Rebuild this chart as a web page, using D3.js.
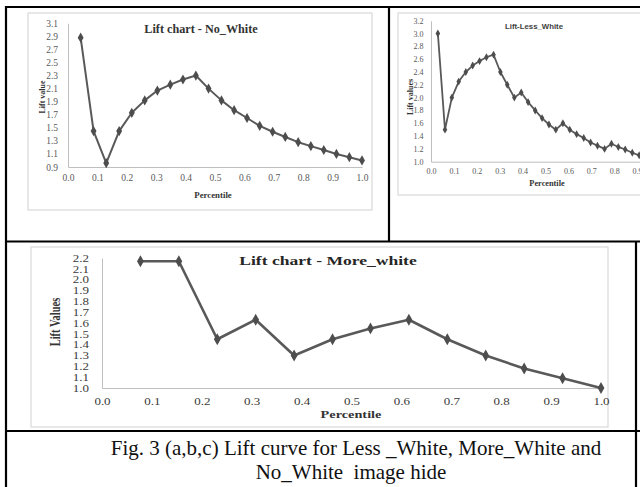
<!DOCTYPE html>
<html>
<head>
<meta charset="utf-8">
<script src="https://cdn.jsdelivr.net/npm/d3@7"></script>
<style>
  body { margin: 0; background: #fff; }
  svg { display: block; }
</style>
</head>
<body>
<script>
// (a) No_White
const noWhitePct = [0.043, 0.087, 0.130, 0.174, 0.217, 0.261, 0.304, 0.348, 0.391, 0.435, 0.478, 0.522,
  0.565, 0.609, 0.652, 0.696, 0.739, 0.783, 0.826, 0.870, 0.913, 0.957, 1.000];
const noWhiteLift = [2.88, 1.45, 0.96, 1.45, 1.73, 1.92, 2.07, 2.16, 2.24, 2.30, 2.10, 1.92,
  1.77, 1.65, 1.53, 1.44, 1.36, 1.28, 1.22, 1.16, 1.10, 1.05, 1.00];
const noWhiteYTicks = [0.9, 1.1, 1.3, 1.5, 1.7, 1.9, 2.1, 2.3, 2.5, 2.7, 2.9, 3.1];

// (b) Less_White (the last points run past the right edge of the figure)
const lessWhitePct = [0.030, 0.061, 0.091, 0.121, 0.152, 0.182, 0.212, 0.242, 0.273, 0.303, 0.333,
  0.364, 0.394, 0.424, 0.455, 0.485, 0.515, 0.545, 0.576, 0.606, 0.636, 0.667,
  0.697, 0.727, 0.758, 0.788, 0.818, 0.848, 0.879, 0.909, 0.939, 0.970, 1.000];
const lessWhiteLift = [3.00, 1.50, 2.00, 2.25, 2.40, 2.50, 2.57, 2.63, 2.67, 2.40, 2.20,
  2.00, 2.08, 1.93, 1.80, 1.68, 1.58, 1.50, 1.60, 1.50, 1.43, 1.37,
  1.30, 1.25, 1.20, 1.28, 1.23, 1.19, 1.14, 1.10, 1.07, 1.03, 1.00];
const lessWhiteYTicks = [1.0, 1.2, 1.4, 1.6, 1.8, 2.0, 2.2, 2.4, 2.6, 2.8, 3.0, 3.2];

// (c) More_white
const moreWhitePct = [0.077, 0.154, 0.231, 0.308, 0.385, 0.462, 0.538, 0.615, 0.692, 0.769, 0.846, 0.923, 1.000];
const moreWhiteLift = [2.17, 2.17, 1.45, 1.63, 1.30, 1.45, 1.55, 1.63, 1.45, 1.30, 1.18, 1.09, 1.00];
const moreWhiteYTicks = [1.0, 1.1, 1.2, 1.3, 1.4, 1.5, 1.6, 1.7, 1.8, 1.9, 2.0, 2.1, 2.2];

const pctTicks = [0, 0.1, 0.2, 0.3, 0.4, 0.5, 0.6, 0.7, 0.8, 0.9, 1.0];

const caption = ['Fig. 3 (a,b,c) Lift curve for Less _White, More_White and', 'No_White  image hide'];

const serif = '"Liberation Serif", "Times New Roman", serif';

const svg = d3.select('body')
  .append('svg')
    .attr('width', 640)
    .attr('height', 487);

const drawLift = (c, pct, lift, yTicks) => {
  const sx = c.sx || 1; // the bottom chart is stretched sideways in the source
  const g = svg.append('g').attr('class', c.name);

  // light chart-area frame
  g.append('rect')
      .attr('x', c.frame[0])
      .attr('y', c.frame[1])
      .attr('width', c.frame[2])
      .attr('height', c.frame[3])
      .attr('fill', 'none')
      .attr('stroke', '#d9d9d9')
      .attr('stroke-width', 1.2);

  const x = d3.scaleLinear().domain([0, 1]).range(c.xRange);
  const y = d3.scaleLinear().domain([yTicks[0], yTicks[yTicks.length - 1]]).range(c.yRange);

  const yAxis = g.append('g')
      .attr('transform', `translate(${x(0)},0)`)
      .call(d3.axisLeft(y).tickValues(yTicks).tickSize(0).tickPadding(c.yPad / sx).tickFormat(d3.format('.1f')));

  const xAxis = g.append('g')
      .attr('transform', `translate(0,${c.yRange[0]})`)
      .call(d3.axisBottom(x).tickValues(pctTicks).tickSize(0).tickPadding(c.xPad).tickFormat(d3.format('.1f')));

  [yAxis, xAxis].forEach(a => {
    a.select('.domain').attr('stroke', '#bfbfbf').attr('stroke-width', 1);
    a.selectAll('text')
        .attr('transform', `scale(${sx},1)`)
        .style('font-family', serif)
        .style('font-size', `${c.tickSize}px`)
        .attr('fill', c.tickColor);
  });

  const pts = pct.map((p, i) => [p, lift[i]]);

  g.append('path')
      .datum(pts)
      .attr('fill', 'none')
      .attr('stroke', '#595959')
      .attr('stroke-width', c.lineW)
      .attr('stroke-linejoin', 'round')
      .attr('d', d3.line().x(d => x(d[0])).y(d => y(d[1])));

  g.selectAll('.mark')
    .data(pts)
    .enter()
    .append('path')
      .attr('class', 'mark')
      .attr('fill', '#4d4d4d')
      .attr('transform', d => `translate(${x(d[0])},${y(d[1])})`)
      .attr('d', d3.symbol().type(d3.symbolDiamond).size(c.markSize));

  g.append('text')
      .attr('transform', `translate(${c.title[0]},${c.title[1]}) scale(${sx},1)`)
      .attr('text-anchor', 'middle')
      .style('font-family', c.titleFont)
      .style('font-weight', 'bold')
      .style('font-size', `${c.title[2]}px`)
      .attr('fill', c.titleColor)
      .text(c.titleText);

  g.append('text')
      .attr('transform', `translate(${c.yLabel[0]},${c.yLabel[1]}) scale(${sx},1) rotate(-90)`)
      .attr('text-anchor', 'middle')
      .style('font-family', serif)
      .style('font-weight', 'bold')
      .style('font-size', `${c.yLabel[2]}px`)
      .attr('fill', '#333')
      .text(c.yLabelText);

  g.append('text')
      .attr('transform', `translate(${c.xLabel[0]},${c.xLabel[1]}) scale(${sx},1)`)
      .attr('text-anchor', 'middle')
      .style('font-family', serif)
      .style('font-weight', 'bold')
      .style('font-size', `${c.xLabel[2]}px`)
      .attr('fill', '#333')
      .text('Percentile');
};

drawLift({
  name: 'noWhite',
  frame: [28, 13, 344, 197],
  xRange: [68, 362],
  yRange: [167, 23.3],
  yPad: 10, xPad: 7.5,
  tickSize: 9.5, tickColor: '#595959',
  lineW: 2, markSize: 30,
  title: [201, 33, 12.2], titleFont: serif, titleColor: '#333', titleText: 'Lift chart - No_White',
  yLabel: [45, 97, 8], yLabelText: 'Lift value',
  xLabel: [213, 197.5, 8.8],
}, noWhitePct, noWhiteLift, noWhiteYTicks);

drawLift({
  name: 'lessWhite',
  frame: [398, 13, 260, 182],
  xRange: [431, 660],
  yRange: [161.7, 20.7],
  yPad: 7.5, xPad: 7,
  tickSize: 8, tickColor: '#595959',
  lineW: 1.8, markSize: 18,
  title: [534, 29, 7.8], titleFont: '"Liberation Sans", Arial, sans-serif', titleColor: '#404040', titleText: 'Lift-Less_White',
  yLabel: [413, 97, 8], yLabelText: 'Lift values',
  xLabel: [547, 186, 8.3],
}, lessWhitePct, lessWhiteLift, lessWhiteYTicks);

drawLift({
  name: 'moreWhite',
  sx: 1.3,
  frame: [31, 247, 577, 180],
  xRange: [102, 601],
  yRange: [388, 258],
  yPad: 13, xPad: 10,
  tickSize: 10, tickColor: '#3a3a3a',
  lineW: 2.6, markSize: 40,
  title: [328, 265, 13.5], titleFont: serif, titleColor: '#262626', titleText: 'Lift chart - More_white',
  yLabel: [60, 322, 10.5], yLabelText: 'Lift Values',
  xLabel: [351, 417.5, 11],
}, moreWhitePct, moreWhiteLift, moreWhiteYTicks);

// table rules
const rules = [
  [5, 7, 640, 7],
  [6, 6, 6, 487],
  [389, 7, 389, 242],
  [5, 241.5, 640, 241.5],
  [5, 431, 640, 431],
  [636, 241, 636, 487],
];
svg.selectAll('.rule')
  .data(rules)
  .enter()
  .append('line')
    .attr('class', 'rule')
    .attr('x1', d => d[0]).attr('y1', d => d[1])
    .attr('x2', d => d[2]).attr('y2', d => d[3])
    .attr('stroke', '#000')
    .attr('stroke-width', 2.2);

// caption
svg.selectAll('.caption')
  .data(caption)
  .enter()
  .append('text')
    .attr('class', 'caption')
    .attr('x', (d, i) => (i === 0 ? 356 : 351))
    .attr('y', (d, i) => 455 + i * 24)
    .attr('text-anchor', 'middle')
    .style('font-family', serif)
    .style('font-size', '21px')
    .style('white-space', 'pre')
    .attr('fill', '#111')
    .text(d => d);
</script>
</body>
</html>
